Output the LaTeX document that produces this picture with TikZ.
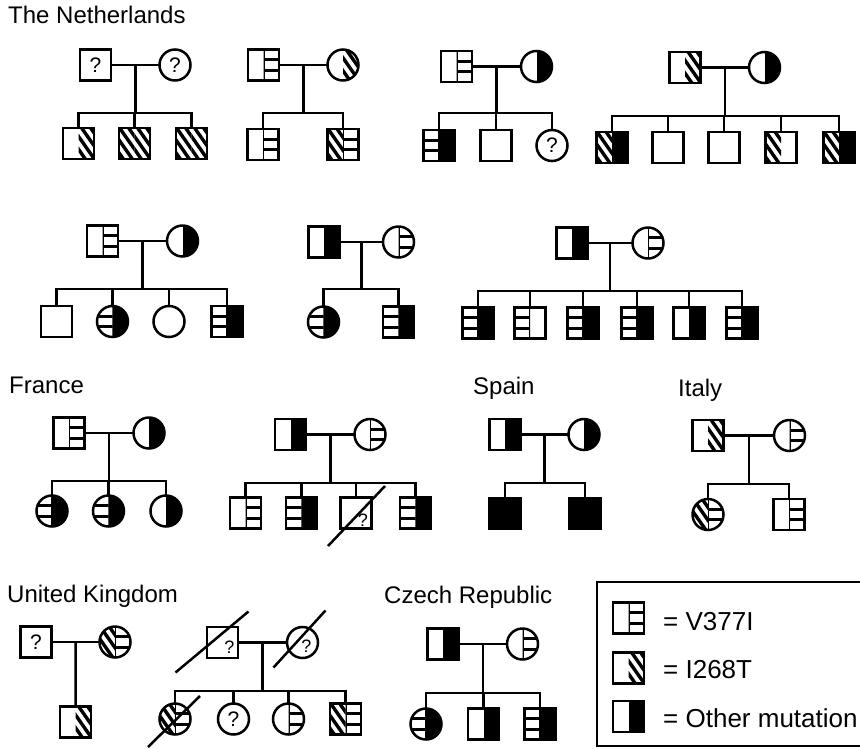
\documentclass[tikz,border=0pt]{standalone}
\usepackage{fontspec}
\setmainfont{Liberation Sans}
\usetikzlibrary{calc}
\tikzset{
  pline/.style={line width=2.5pt},
  outl/.style={line width=2.5pt},
  vbar/.style={line width=3.2pt},
  ibar/.style={line width=3.4pt},
  sqnode/.style={rectangle, minimum size=31pt, inner sep=0pt, font=\fontsize{21}{21}\selectfont},
  cinode/.style={circle, minimum size=31pt, inner sep=0pt, font=\fontsize{21}{21}\selectfont},
  qsmall/.style={inner sep=0pt, font=\fontsize{18}{18}\selectfont},
  lab/.style={anchor=base west, inner sep=0pt, font=\fontsize{24}{24}\selectfont},
  leg/.style={anchor=base west, inner sep=0pt, font=\fontsize{26}{26}\selectfont},
}
\def\R{15.5}
\newcommand\clipsq[2]{\clip ({#1-\R},{#2-\R}) rectangle ({#1+\R},{#2+\R});}
\newcommand\clipci[2]{\clip ({#1},{#2}) circle[radius=\R];}
\newcommand\outsq[2]{\draw[outl] ({#1-\R},{#2-\R}) rectangle ({#1+\R},{#2+\R});}
\newcommand\outci[2]{\draw[outl] ({#1},{#2}) circle[radius=\R];}
\newcommand\patE[3]{}
\newcommand\patO[3]{\fill ({#1},{#2-20}) rectangle ({#1+(#3)*20},{#2+20});}
\newcommand\patV[3]{\draw[line width=2pt] ({#1},{#2-20}) -- ({#1},{#2+20});
  \draw[vbar] ({#1},{#2-\R/3}) -- ({#1+(#3)*20},{#2-\R/3});
  \draw[vbar] ({#1},{#2+\R/3}) -- ({#1+(#3)*20},{#2+\R/3});}
\newcommand\patI[3]{\foreach \k in {-7,...,3}{\draw[ibar] ({#1+\k*9},{#2-20}) -- ({#1+\k*9+28},{#2+20});}}
\newcommand\half[5]{\begin{scope}
    \csname clip#1\endcsname{#2}{#3}
    \clip ({#2},{#3-20}) rectangle ({#2+(#4)*20},{#3+20});
    \csname pat#5\endcsname{#2}{#3}{#4}
  \end{scope}}
% name, shape, cx, cy, left, right, text
\newcommand\person[7]{%
  \node[#2node] (#1) at ({#3},{#4}) {#7};
  \half{#2}{#3}{#4}{-1}{#5}
  \half{#2}{#3}{#4}{1}{#6}
  \csname out#2\endcsname{#3}{#4}}
% father, mother, drop, first child, last child, all children
\newcommand\family[6]{%
  \coordinate (#1d) at ($(#1.east)!0.5!(#2.west)$);
  \coordinate (#1s) at ($(#1d)+(0,#3)$);
  \draw[pline] (#1.east) -- (#2.west);
  \draw[pline] (#1d) -- (#1s);
  \draw[pline] (#4.north) |- (#5.north |- #1s) -- (#5.north);
  \foreach \c in {#6}{\draw[pline] (\c.north) -- (\c.north |- #1s);}}
\begin{document}
\begin{tikzpicture}[x=1pt,y=-1pt]
\clip (0,0) rectangle (860,748);
\fill[white] (0,0) rectangle (860,748);
% labels
\node[lab] (tNL) at (8,23) {The Netherlands};
\node[lab] (tFR) at (9,393) {France};
\node[lab] (tES) at (473,394) {Spain};
\node[lab] (tIT) at (678,396) {Italy};
\node[lab] (tUK) at (7,602) {United Kingdom};
\node[lab] (tCZ) at (384,603) {Czech Republic};
% NL1
\person{a1f}{sq}{95.5}{65}{E}{E}{?}
\person{a1m}{ci}{175}{65}{E}{E}{?}
\person{a1c1}{sq}{78.5}{143.5}{E}{I}{}
\person{a1c2}{sq}{134.5}{143.5}{I}{I}{}
\person{a1c3}{sq}{191.5}{143.5}{I}{I}{}
\family{a1f}{a1m}{48}{a1c1}{a1c3}{a1c1,a1c2,a1c3}
% NL2
\person{a2f}{sq}{263.5}{65}{E}{V}{}
\person{a2m}{ci}{343}{65}{E}{I}{}
\person{a2c1}{sq}{263}{144.5}{E}{V}{}
\person{a2c2}{sq}{343}{144.5}{I}{V}{}
\family{a2f}{a2m}{48}{a2c1}{a2c2}{a2c1,a2c2}
% NL3
\person{a3f}{sq}{456.5}{66.5}{E}{V}{}
\person{a3m}{ci}{536.5}{66.5}{E}{O}{}
\person{a3c1}{sq}{439}{145.5}{V}{O}{}
\person{a3c2}{sq}{496}{145.5}{E}{E}{}
\person{a3c3}{ci}{552}{145.5}{E}{E}{?}
\family{a3f}{a3m}{46.5}{a3c1}{a3c3}{a3c1,a3c2,a3c3}
% NL4
\person{a4f}{sq}{685}{67.5}{E}{I}{}
\person{a4m}{ci}{764.5}{67.5}{E}{O}{}
\person{a4c1}{sq}{612}{147.5}{I}{O}{}
\person{a4c2}{sq}{668}{147.5}{E}{E}{}
\person{a4c3}{sq}{724}{147.5}{E}{E}{}
\person{a4c4}{sq}{781}{147.5}{I}{E}{}
\person{a4c5}{sq}{839}{147.5}{I}{O}{}
\family{a4f}{a4m}{48.5}{a4c1}{a4c5}{a4c1,a4c2,a4c3,a4c4,a4c5}
% Row 2 ped 1
\person{b1f}{sq}{102.5}{241}{E}{V}{}
\person{b1m}{ci}{182.5}{241}{E}{O}{}
\person{b1c1}{sq}{56.5}{321.5}{E}{E}{}
\person{b1c2}{ci}{112.5}{321.5}{V}{O}{}
\person{b1c3}{ci}{169}{321.5}{E}{E}{}
\person{b1c4}{sq}{227}{321.5}{V}{O}{}
\family{b1f}{b1m}{48}{b1c1}{b1c4}{b1c1,b1c2,b1c3,b1c4}
% Row 2 ped 2
\person{b2f}{sq}{324}{242}{E}{O}{}
\person{b2m}{ci}{398.5}{242}{E}{V}{}
\person{b2c1}{ci}{323.5}{322}{V}{O}{}
\person{b2c2}{sq}{398.5}{322}{V}{O}{}
\family{b2f}{b2m}{47}{b2c1}{b2c2}{b2c1,b2c2}
% Row 2 ped 3
\person{b3f}{sq}{572}{243}{E}{O}{}
\person{b3m}{ci}{648}{243}{E}{V}{}
\person{b3c1}{sq}{478}{323}{V}{O}{}
\person{b3c2}{sq}{530}{323}{V}{E}{}
\person{b3c3}{sq}{583}{323}{V}{O}{}
\person{b3c4}{sq}{637}{323}{V}{O}{}
\person{b3c5}{sq}{689}{323}{E}{O}{}
\person{b3c6}{sq}{742}{323}{V}{O}{}
\family{b3f}{b3m}{48}{b3c1}{b3c6}{b3c1,b3c2,b3c3,b3c4,b3c5,b3c6}
% France ped 1
\person{c1f}{sq}{69}{433}{E}{V}{}
\person{c1m}{ci}{149}{433}{E}{O}{}
\person{c1c1}{ci}{52}{511}{V}{O}{}
\person{c1c2}{ci}{108.5}{511}{V}{O}{}
\person{c1c3}{ci}{166}{511}{E}{O}{}
\family{c1f}{c1m}{48}{c1c1}{c1c3}{c1c1,c1c2,c1c3}
% France ped 2
\person{c2f}{sq}{290.5}{434.5}{E}{O}{}
\person{c2m}{ci}{370}{434.5}{E}{V}{}
\person{c2c1}{sq}{245.5}{513}{E}{V}{}
\person{c2c2}{sq}{301.5}{513}{V}{O}{}
\person{c2c3}{sq}{356}{513}{E}{E}{}
\person{c2c4}{sq}{415.5}{513}{V}{O}{}
\family{c2f}{c2m}{48.5}{c2c1}{c2c4}{c2c1,c2c2,c2c3,c2c4}
\node[qsmall] (c2c3q) at ($(c2c3)+(7,7)$) {?};
\draw[pline] ($(c2c3)+(-28,33)$) -- ($(c2c3)+(29,-27)$);
% Spain
\person{d1f}{sq}{505}{434.5}{E}{O}{}
\person{d1m}{ci}{584}{434.5}{E}{O}{}
\person{d1c1}{sq}{505}{513.5}{O}{O}{}
\person{d1c2}{sq}{585}{513.5}{O}{O}{}
\family{d1f}{d1m}{48.5}{d1c1}{d1c2}{d1c1,d1c2}
% Italy
\person{e1f}{sq}{708}{435.5}{E}{I}{}
\person{e1m}{ci}{789.5}{435.5}{E}{V}{}
\person{e1c1}{ci}{708}{514.5}{I}{V}{}
\person{e1c2}{sq}{789}{514.5}{E}{V}{}
\family{e1f}{e1m}{48.5}{e1c1}{e1c2}{e1c1,e1c2}
% UK ped 1
\person{f1f}{sq}{36}{642}{E}{E}{?}
\person{f1m}{ci}{115}{642}{I}{V}{}
\person{f1c1}{sq}{75.5}{722}{E}{I}{}
\coordinate (f1fd) at ($(f1f.east)!0.5!(f1m.west)$);
\draw[pline] (f1f.east) -- (f1m.west);
\draw[pline] (f1fd) -- (f1c1.north);
% UK ped 2
\person{f2f}{sq}{222.5}{642.5}{E}{E}{}
\person{f2m}{ci}{302.5}{642.5}{E}{E}{}
\person{f2c1}{ci}{175}{719}{I}{V}{}
\person{f2c2}{ci}{233.5}{719}{E}{E}{?}
\person{f2c3}{ci}{288.5}{719}{E}{V}{}
\person{f2c4}{sq}{345.5}{719}{I}{V}{}
\family{f2f}{f2m}{48.5}{f2c1}{f2c4}{f2c1,f2c2,f2c3,f2c4}
\node[qsmall] (f2fq) at ($(f2f)+(7,5)$) {?};
\node[qsmall] (f2mq) at ($(f2m)+(4,4)$) {?};
\draw[pline] ($(f2f)+(-47,30)$) -- ($(f2f)+(26,-31)$);
\draw[pline] ($(f2m)+(-29,25)$) -- ($(f2m)+(23,-32)$);
\draw[pline] ($(f2c1)+(-27,28)$) -- ($(f2c1)+(25,-23)$);
% Czech
\person{g1f}{sq}{443}{644}{E}{O}{}
\person{g1m}{ci}{522.5}{644}{E}{V}{}
\person{g1c1}{ci}{426}{724}{V}{O}{}
\person{g1c2}{sq}{483.5}{724}{E}{O}{}
\person{g1c3}{sq}{540}{724}{V}{O}{}
\family{g1f}{g1m}{49}{g1c1}{g1c3}{g1c1,g1c2,g1c3}
% Legend
\draw[line width=1.8pt] (597,582) rectangle (880,746);
\person{L1}{sq}{628.5}{618}{E}{V}{}
\person{L2}{sq}{628.5}{668}{E}{I}{}
\person{L3}{sq}{628.5}{716.5}{E}{O}{}
\node[leg] (tL1) at (663,630) {= V377I};
\node[leg] (tL2) at (663,678) {= I268T};
\node[leg] (tL3) at (663,727) {= Other mutation};
\end{tikzpicture}
\end{document}
